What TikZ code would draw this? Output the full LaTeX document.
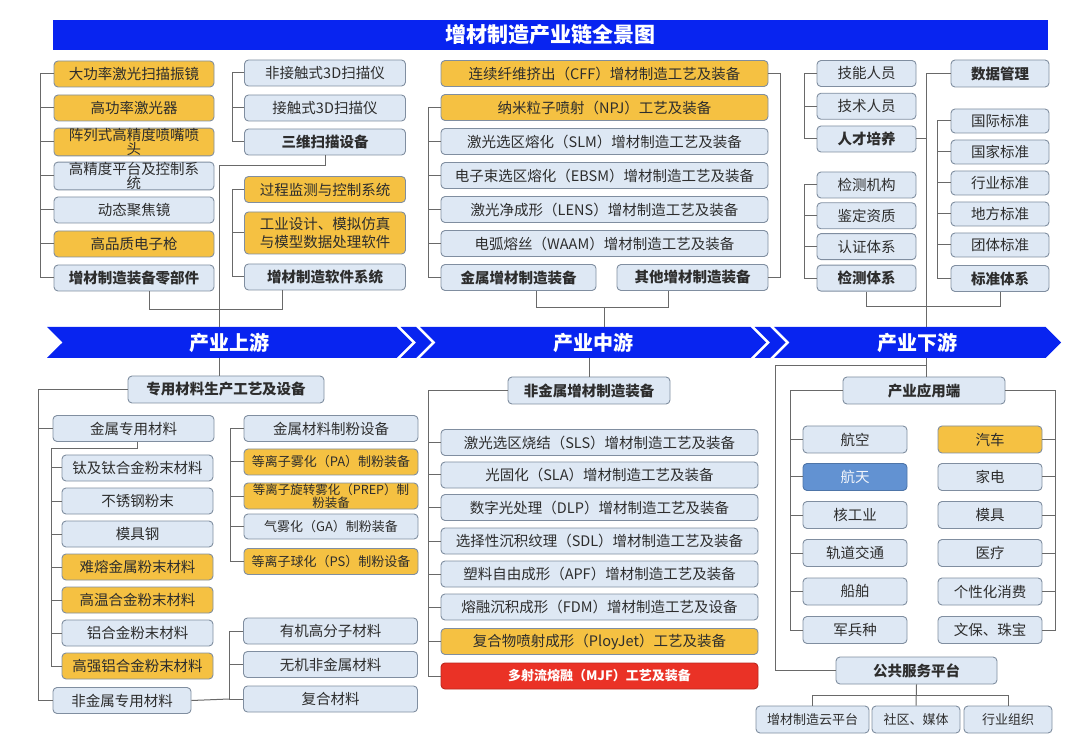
\documentclass[tikz,border=0pt]{standalone}
\usepackage{fontspec}
\setmainfont{Noto Sans CJK SC}
\usetikzlibrary{shapes,positioning}
\definecolor{paleblue}{RGB}{222,232,244}
\definecolor{boxedge}{RGB}{128,142,160}
\definecolor{gold}{RGB}{245,193,66}
\definecolor{chainblue}{RGB}{8,36,240}
\definecolor{alarmred}{RGB}{234,50,38}
\definecolor{skyblue}{RGB}{98,146,210}
\definecolor{inkgray}{RGB}{45,45,45}
\definecolor{wiregray}{RGB}{105,105,105}
\tikzstyle{block} = [rectangle, draw=boxedge, fill=paleblue, text=inkgray,
    rounded corners=4pt, minimum height=26pt, inner xsep=2pt, inner ysep=0pt,
    line width=0.9pt, align=center, font=\fontsize{14.5}{14.5}\selectfont]
\tikzstyle{goldblock} = [block, fill=gold]
\tikzstyle{keyblock} = [block, font=\fontsize{14.5}{14.5}\selectfont\bfseries]
\tikzstyle{smallblock} = [block, font=\fontsize{13}{13.5}\selectfont]
\tikzstyle{goldsmall} = [smallblock, fill=gold]
\tikzstyle{alarmblock} = [block, fill=alarmred, draw=alarmred!80!black, text=white,
    font=\fontsize{13}{13}\selectfont\bfseries]
\tikzstyle{stage} = [signal, signal from=west, signal to=east, fill=chainblue,
    text=white, minimum height=31pt, inner sep=0pt, font=\fontsize{20}{20}\selectfont\bfseries]
\tikzstyle{line} = [draw=wiregray, line width=1pt]

\begin{document}
\begin{tikzpicture}[x=1pt, y=-1pt]
    \useasboundingbox (0,0) rectangle (1080,743);
    \node [rectangle, fill=chainblue, text=white, minimum width=995pt, minimum height=30pt,
        font=\fontsize{21}{21}\selectfont\bfseries] (title) at (550.5,35) {增材制造产业链全景图};
    % Place nodes: upstream, parts and software
    \node [goldblock, minimum width=160pt] (a1) at (134,74) {大功率激光扫描振镜};
    \node [goldblock, minimum width=160pt, below of=a1, node distance=34pt] (a2) {高功率激光器};
    \node [goldblock, minimum width=160pt, below of=a2, node distance=34pt] (a3) {阵列式高精度喷嘴喷\\头};
    \node [block, minimum width=160pt, below of=a3, node distance=34pt] (a4) {高精度平台及控制系\\统};
    \node [block, minimum width=160pt, below of=a4, node distance=34pt] (a5) {动态聚焦镜};
    \node [goldblock, minimum width=160pt, below of=a5, node distance=34pt] (a6) {高品质电子枪};
    \node [keyblock, minimum width=160pt, below of=a6, node distance=34pt] (a7) {增材制造装备零部件};
    \node [block, minimum width=161pt] (b1) at (325,73) {非接触式3D扫描仪};
    \node [block, minimum width=161pt, below of=b1, node distance=35pt] (b2) {接触式3D扫描仪};
    \node [keyblock, minimum width=161pt, below of=b2, node distance=34pt] (b3) {三维扫描设备};
    \node [goldblock, minimum width=161pt] (b4) at (325,189.5) {过程监测与控制系统};
    \node [goldblock, minimum width=161pt, minimum height=42pt, font=\fontsize{14.5}{18}\selectfont,
        below of=b4, node distance=43.5pt] (b5) {工业设计、模拟仿真\\与模型数据处理软件};
    \node [keyblock, minimum width=161pt, below of=b5, node distance=44pt] (b6) {增材制造软件系统};
    % midstream, metal and other equipment
    \node [goldblock, minimum width=327pt] (c1) at (604.5,73.5) {连续纤维挤出（CFF）增材制造工艺及装备};
    \node [goldblock, minimum width=327pt, below of=c1, node distance=34pt] (c2) {纳米粒子喷射（NPJ）工艺及装备};
    \node [block, minimum width=327pt, below of=c2, node distance=34pt] (c3) {激光选区熔化（SLM）增材制造工艺及装备};
    \node [block, minimum width=327pt, below of=c3, node distance=34pt] (c4) {电子束选区熔化（EBSM）增材制造工艺及装备};
    \node [block, minimum width=327pt, below of=c4, node distance=34pt] (c5) {激光净成形（LENS）增材制造工艺及装备};
    \node [block, minimum width=327pt, below of=c5, node distance=34pt] (c6) {电弧熔丝（WAAM）增材制造工艺及装备};
    \node [keyblock, minimum width=155pt] (c7) at (518.5,277.5) {金属增材制造装备};
    \node [keyblock, minimum width=151pt, right of=c7, node distance=174pt] (c8) {其他增材制造装备};
    % downstream, talent, testing, standards
    \node [block, minimum width=99pt] (d1) at (866.5,73.5) {技能人员};
    \node [block, minimum width=99pt, below of=d1, node distance=32.75pt] (d2) {技术人员};
    \node [keyblock, minimum width=99pt, below of=d2, node distance=32.75pt] (d3) {人才培养};
    \node [block, minimum width=99pt] (d4) at (866.5,185) {检测机构};
    \node [block, minimum width=99pt, below of=d4, node distance=30.8pt] (d5) {鉴定资质};
    \node [block, minimum width=99pt, below of=d5, node distance=30.8pt] (d6) {认证体系};
    \node [keyblock, minimum width=99pt, below of=d6, node distance=31.5pt] (d7) {检测体系};
    \node [keyblock, minimum width=98pt, minimum height=27pt] (e1) at (1000,73.5) {数据管理};
    \node [block, minimum width=98pt, minimum height=24pt] (e2) at (1000,121) {国际标准};
    \node [block, minimum width=98pt, minimum height=24pt, below of=e2, node distance=31pt] (e3) {国家标准};
    \node [block, minimum width=98pt, minimum height=24pt, below of=e3, node distance=31pt] (e4) {行业标准};
    \node [block, minimum width=98pt, minimum height=24pt, below of=e4, node distance=31pt] (e5) {地方标准};
    \node [block, minimum width=98pt, minimum height=24pt, below of=e5, node distance=31pt] (e6) {团体标准};
    \node [keyblock, minimum width=98pt, below of=e6, node distance=33.5pt] (e7) {标准体系};
    % value chain bar
    \node [stage, minimum width=365pt] (up) at (229.5,342.5) {产业上游};
    \node [stage, minimum width=28pt] (skip1) at (416,342.5) {};
    \node [stage, minimum width=346pt] (mid) at (593,342.5) {产业中游};
    \node [stage, minimum width=28pt] (skip2) at (770,342.5) {};
    \node [stage, minimum width=287pt] (down) at (917.5,342.5) {产业下游};
    % upstream, materials
    \node [keyblock, minimum width=196pt, minimum height=27pt] (m0) at (226,389.5) {专用材料生产工艺及设备};
    \node [block, minimum width=161pt] (m1) at (133.5,428.5) {金属专用材料};
    \node [block, minimum width=151pt] (m2) at (137.5,468) {钛及钛合金粉末材料};
    \node [block, minimum width=151pt, below of=m2, node distance=33pt] (m3) {不锈钢粉末};
    \node [block, minimum width=151pt, below of=m3, node distance=33pt] (m4) {模具钢};
    \node [goldblock, minimum width=151pt, below of=m4, node distance=33pt] (m5) {难熔金属粉末材料};
    \node [goldblock, minimum width=151pt, below of=m5, node distance=33pt] (m6) {高温合金粉末材料};
    \node [block, minimum width=151pt, below of=m6, node distance=33pt] (m7) {铝合金粉末材料};
    \node [goldblock, minimum width=151pt, below of=m7, node distance=33pt] (m8) {高强铝合金粉末材料};
    \node [block, minimum width=138pt] (m9) at (122,700.5) {非金属专用材料};
    \node [block, minimum width=174pt] (g1) at (331,428.5) {金属材料制粉设备};
    \node [goldsmall, minimum width=174pt] (g2) at (331,462) {等离子雾化（PA）制粉装备};
    \node [goldsmall, minimum width=174pt, font=\fontsize{12.5}{13}\selectfont,
        below of=g2, node distance=34pt] (g3) {等离子旋转雾化（PREP）制\\粉装备};
    \node [smallblock, minimum width=174pt, minimum height=25pt, below of=g3, node distance=30.5pt] (g4) {气雾化（GA）制粉装备};
    \node [goldsmall, minimum width=174pt, below of=g4, node distance=35pt] (g5) {等离子球化（PS）制粉设备};
    \node [block, minimum width=174pt] (h1) at (330.5,631) {有机高分子材料};
    \node [block, minimum width=174pt, below of=h1, node distance=33.5pt] (h2) {无机非金属材料};
    \node [block, minimum width=174pt, below of=h2, node distance=34.5pt] (h3) {复合材料};
    % midstream, non-metal equipment
    \node [keyblock, minimum width=162pt, minimum height=27pt] (n0) at (589,390.5) {非金属增材制造装备};
    \node [block, minimum width=317pt] (n1) at (599.5,442.5) {激光选区烧结（SLS）增材制造工艺及装备};
    \node [block, minimum width=317pt, below of=n1, node distance=32.5pt] (n2) {光固化（SLA）增材制造工艺及装备};
    \node [block, minimum width=317pt, below of=n2, node distance=32.5pt] (n3) {数字光处理（DLP）增材制造工艺及装备};
    \node [block, minimum width=317pt, below of=n3, node distance=33.5pt] (n4) {选择性沉积纹理（SDL）增材制造工艺及装备};
    \node [block, minimum width=317pt, below of=n4, node distance=33pt] (n5) {塑料自由成形（APF）增材制造工艺及装备};
    \node [block, minimum width=317pt, below of=n5, node distance=33pt] (n6) {熔融沉积成形（FDM）增材制造工艺及设备};
    \node [goldblock, minimum width=317pt, below of=n6, node distance=34.5pt] (n7) {复合物喷射成形（PloyJet）工艺及装备};
    \node [alarmblock, minimum width=317pt, below of=n7, node distance=34.5pt] (n8) {多射流熔融（MJF）工艺及装备};
    % downstream, applications and services
    \node [keyblock, minimum width=162pt, minimum height=27pt] (p0) at (924,390.5) {产业应用端};
    \node [block, minimum width=104pt, minimum height=27pt] (p1) at (855,439.5) {航空};
    \node [block, fill=skyblue, draw=skyblue!80!black, text=white!92!skyblue, minimum width=104pt,
        minimum height=27pt, below of=p1, node distance=37.5pt] (p2) {航天};
    \node [block, minimum width=104pt, minimum height=27pt, below of=p2, node distance=38pt] (p3) {核工业};
    \node [block, minimum width=104pt, minimum height=27pt, below of=p3, node distance=38pt] (p4) {轨道交通};
    \node [block, minimum width=104pt, minimum height=27pt, below of=p4, node distance=38.5pt] (p5) {船舶};
    \node [block, minimum width=104pt, minimum height=27pt, below of=p5, node distance=38.5pt] (p6) {军兵种};
    \node [goldblock, minimum width=104pt, minimum height=27pt, right of=p1, node distance=135pt] (r1) {汽车};
    \node [block, minimum width=104pt, minimum height=27pt, right of=p2, node distance=135pt] (r2) {家电};
    \node [block, minimum width=104pt, minimum height=27pt, right of=p3, node distance=135pt] (r3) {模具};
    \node [block, minimum width=104pt, minimum height=27pt, right of=p4, node distance=135pt] (r4) {医疗};
    \node [block, minimum width=104pt, minimum height=27pt, right of=p5, node distance=135pt] (r5) {个性化消费};
    \node [block, minimum width=104pt, minimum height=27pt, right of=p6, node distance=135pt] (r6) {文保、珠宝};
    \node [keyblock, minimum width=161pt, minimum height=27pt] (q0) at (916.5,670.5) {公共服务平台};
    \node [smallblock, minimum width=113pt, minimum height=27pt] (s1) at (812.5,719.5) {增材制造云平台};
    \node [smallblock, minimum width=88pt, minimum height=27pt] (s2) at (916,719.5) {社区、媒体};
    \node [smallblock, minimum width=88pt, minimum height=27pt] (s3) at (1008,719.5) {行业组织};
    % Draw edges: upstream top
    \coordinate (ax) at (40,0);
    \path [line] (a1.west) -- (a1.west -| ax) |- (a7.west);
    \foreach \i in {2,...,6} \path [line] (a\i.west -| ax) -- (a\i.west);
    \coordinate (bx) at (232,0);
    \path [line] (b1.west) -- (b1.west -| bx) |- (b3.west);
    \path [line] (b2.west -| bx) -- (b2.west);
    \path [line] (b4.west) -- (b4.west -| bx) |- (b6.west);
    \path [line] (b5.west -| bx) -- (b5.west);
    \path [line] ([xshift=15pt]a7.south) -- ++(0,18) -| ([xshift=-43pt]b6.south);
    \coordinate (upjoin) at (219,0);
    \path [line] (b3.south) -- ++(0,10) -| (upjoin |- up.north);
    % midstream top
    \coordinate (cx) at (428,0);
    \path [line] (c2.west) -- (c2.west -| cx) |- (c7.west);
    \foreach \i in {3,...,6} \path [line] (c\i.west -| cx) -- (c\i.west);
    \coordinate (cr) at (780,0);
    \path [line] (c1.east) -- (c1.east -| cr) |- (c8.east);
    \path [line] ([xshift=17.5pt]c7.south) -- ++(0,17) -| ([xshift=-24.5pt]c8.south);
    \coordinate (midjoin) at (604,308);
    \path [line] (midjoin) -- (midjoin |- mid.north);
    % downstream top
    \coordinate (dx) at (804,0);
    \path [line] (d1.west) -- (d1.west -| dx) |- (d3.west);
    \path [line] (d2.west -| dx) -- (d2.west);
    \path [line] (d4.west) -- (d4.west -| dx) |- (d7.west);
    \foreach \i in {5,6} \path [line] (d\i.west -| dx) -- (d\i.west);
    \coordinate (ex) at (937,0);
    \path [line] (e2.west) -- (e2.west -| ex) |- (e7.west);
    \foreach \i in {3,...,6} \path [line] (e\i.west -| ex) -- (e\i.west);
    \path [line] (d7.south) -- ++(0,15) -| (e7.south);
    \coordinate (downjoin) at (926,0);
    \path [line] (e1.west) -| (downjoin |- down.north);
    \path [line] (d3.east) -- (d3.east -| downjoin);
    % upstream bottom
    \path [line] (upjoin |- up.south) -- (upjoin |- m0.north);
    \coordinate (mx) at (38,0);
    \path [line] (m0.west) -- (m0.west -| mx) |- (m9.west);
    \path [line] (m1.west -| mx) -- (m1.west);
    \coordinate (kx) at (51,0);
    \path [line] ([xshift=3.5pt]m1.south) -- ++(0,7) -| (kx |- m8.west) -- (m8.west);
    \foreach \i in {2,...,7} \path [line] (m\i.west -| kx) -- (m\i.west);
    \coordinate (gx) at (230,0);
    \path [line] (g1.west) -- (g1.west -| gx) |- (g5.west);
    \foreach \i in {2,3,4} \path [line] (g\i.west -| gx) -- (g\i.west);
    \coordinate (hx) at (229,0);
    \path [line] (h1.west) -- (h1.west -| hx) |- (h3.west);
    \path [line] (h2.west -| hx) -- (h2.west);
    \path [line] (m9.east) -- (hx |- h3.west);
    % midstream bottom
    \path [line] (n0.north) -- (n0.north |- mid.south);
    \coordinate (nx) at (428,0);
    \path [line] (n0.west) -- (n0.west -| nx) |- (n8.west);
    \foreach \i in {1,...,7} \path [line] (n\i.west -| nx) -- (n\i.west);
    % downstream bottom
    \coordinate (apex) at (926,366);
    \path [line] (downjoin |- down.south) -- (downjoin |- p0.north);
    \coordinate (ox) at (775,0);
    \path [line] (apex) -- (apex -| ox) |- (q0.west);
    \coordinate (px) at (790,0);
    \path [line] (p0.west) -- (p0.west -| px) |- (p6.west);
    \foreach \i in {1,...,5} \path [line] (p\i.west -| px) -- (p\i.west);
    \coordinate (rx) at (1055,0);
    \path [line] (p0.east) -- (p0.east -| rx) |- (r6.east);
    \foreach \i in {1,...,5} \path [line] (r\i.east -| rx) -- (r\i.east);
    \path [line] (q0.south) -- (s2.north);
    \path [line] (s1.north) -- ++(0,-10) -| (s3.north);
\end{tikzpicture}
\end{document}
